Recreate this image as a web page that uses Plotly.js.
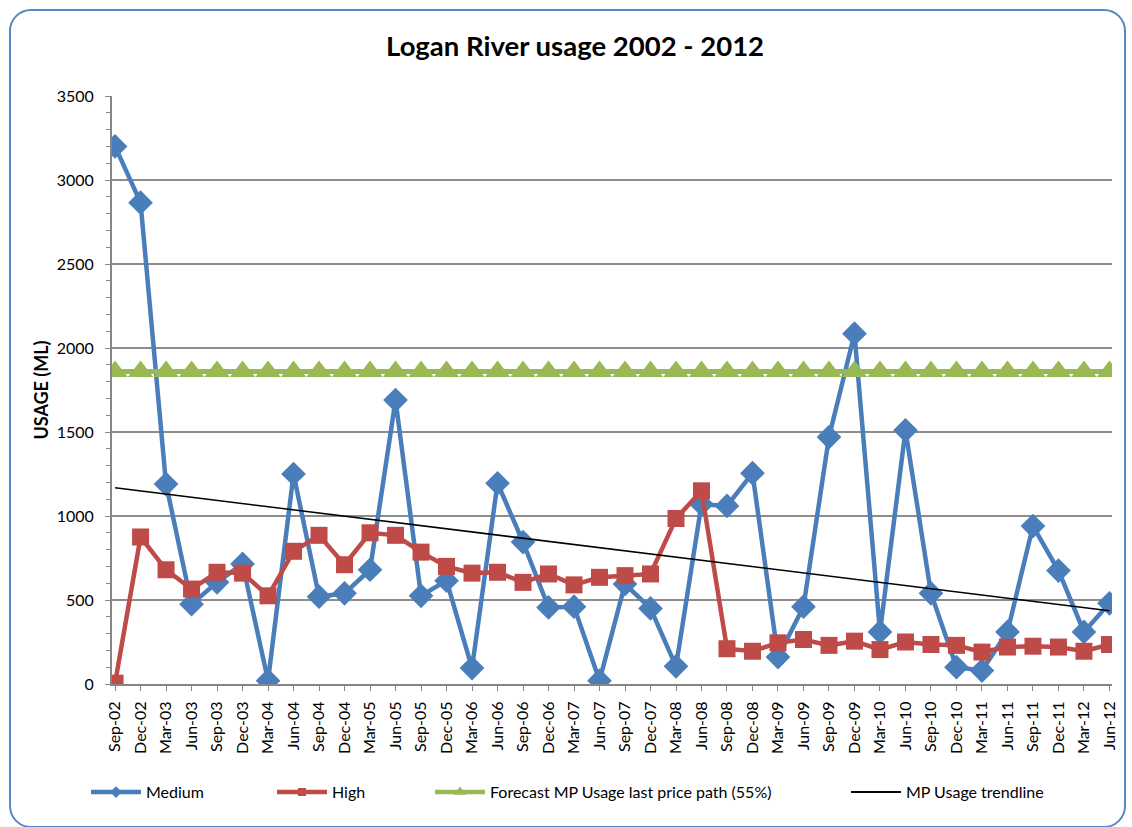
<!DOCTYPE html>
<html>
<head>
<meta charset="utf-8">
<script src="https://cdn.plot.ly/plotly-3.0.1.min.js"></script>
<style>
  html, body { margin: 0; padding: 0; background: #ffffff; }
  #wrap { position: relative; width: 1132px; height: 827px; overflow: hidden; }
  #chart { position: absolute; left: 0; top: 0; width: 1132px; height: 827px; }
  #frame { position: absolute; left: 9px; top: 9px; width: 1113px; height: 815px;
           border: 2px solid #5a86c3; border-radius: 22px; pointer-events: none; }
</style>
</head>
<body>
<div id="wrap">
  <div id="chart"></div>
  <div id="frame"></div>
</div>
<script>
const categories = ["Sep-02","Dec-02","Mar-03","Jun-03","Sep-03","Dec-03","Mar-04","Jun-04","Sep-04","Dec-04",
  "Mar-05","Jun-05","Sep-05","Dec-05","Mar-06","Jun-06","Sep-06","Dec-06","Mar-07","Jun-07",
  "Sep-07","Dec-07","Mar-08","Jun-08","Sep-08","Dec-08","Mar-09","Jun-09","Sep-09","Dec-09",
  "Mar-10","Jun-10","Sep-10","Dec-10","Mar-11","Jun-11","Sep-11","Dec-11","Mar-12","Jun-12"];

const medium = [3200, 2865, 1190, 475, 605, 715, 20, 1250, 520, 540,
  680, 1690, 525, 615, 95, 1195, 845, 456, 460, 20,
  595, 450, 105, 1070, 1060, 1255, 160, 460, 1470, 2085,
  310, 1510, 540, 100, 80, 310, 940, 675, 310, 480];

const high = [5, 875, 680, 565, 665, 660, 525, 790, 885, 710,
  900, 885, 785, 700, 660, 665, 605, 655, 590, 635,
  645, 655, 985, 1150, 210, 195, 245, 265, 230, 255,
  205, 250, 235, 230, 190, 220, 225, 220, 195, 235];

const forecast = [1860, 1860, 1860, 1860, 1860, 1860, 1860, 1860, 1860, 1860,
  1860, 1860, 1860, 1860, 1860, 1860, 1860, 1860, 1860, 1860,
  1860, 1860, 1860, 1860, 1860, 1860, 1860, 1860, 1860, 1860,
  1860, 1860, 1860, 1860, 1860, 1860, 1860, 1860, 1860, 1860];

const trendCategories = ["Sep-02", "Jun-12"];
const trendValues = [1168, 436];

const seriesNames = ["Medium", "High", "Forecast MP Usage last price path (55%)", "MP Usage trendline"];

const FONT = "Lato, 'Liberation Sans', Arial, sans-serif";
const BLUE = "#4a7ebb", RED = "#be4b48", GREEN = "#98b954";

const traces = [
  { x: categories, y: medium, name: seriesNames[0], type: "scatter", mode: "lines+markers",
    line: { color: BLUE, width: 4.5 }, showlegend: false,
    marker: { symbol: "diamond", size: 19, color: BLUE } },
  { x: categories, y: high, name: seriesNames[1], type: "scatter", mode: "lines+markers",
    line: { color: RED, width: 4.5 }, showlegend: false,
    marker: { symbol: "square", size: 17, color: RED } },
  { x: categories, y: forecast, name: seriesNames[2], type: "scatter", mode: "lines+markers",
    line: { color: GREEN, width: 5 }, showlegend: false,
    marker: { symbol: "triangle-up", size: 22, color: GREEN } },
  { x: trendCategories, y: trendValues, name: seriesNames[3], type: "scatter", mode: "lines",
    line: { color: "#000000", width: 1.5 }, showlegend: false },
  // legend-only entries (no data drawn), with small Excel-like legend markers
  { x: [null], y: [null], name: seriesNames[0], type: "scatter", mode: "lines+markers",
    line: { color: BLUE, width: 4.5 }, marker: { symbol: "diamond", size: 9, color: BLUE }, legend: "legend" },
  { x: [null], y: [null], name: seriesNames[1], type: "scatter", mode: "lines+markers",
    line: { color: RED, width: 4.5 }, marker: { symbol: "square", size: 8, color: RED }, legend: "legend2" },
  { x: [null], y: [null], name: seriesNames[2], type: "scatter", mode: "lines+markers",
    line: { color: GREEN, width: 4.5 }, marker: { symbol: "triangle-up", size: 11, color: GREEN }, legend: "legend3" },
  { x: [null], y: [null], name: seriesNames[3], type: "scatter", mode: "lines",
    line: { color: "#000000", width: 2 }, legend: "legend4" }
];

function leg(x) {
  return { x: x, y: -0.184, xanchor: "left", yanchor: "middle", orientation: "h",
    font: { family: FONT, size: 16, color: "#000" }, bgcolor: "rgba(0,0,0,0)", itemwidth: 50 };
}

const layout = {
  width: 1132, height: 827,
  margin: { l: 112, r: 20, t: 96, b: 143 },
  paper_bgcolor: "#ffffff", plot_bgcolor: "#ffffff",
  title: { text: "<b>Logan River usage 2002 - 2012</b>", xref: "container", x: 0.508, xanchor: "center", y: 0.944, yanchor: "middle",
    font: { family: FONT, size: 27.5, color: "#000" } },
  xaxis: {
    type: "category", range: [-0.12, 39.1], fixedrange: true,
    tickangle: -90, tickfont: { family: FONT, size: 16, color: "#000" },
    ticks: "outside", ticklen: 5, tickcolor: "#868686", ticklabelstandoff: 4,
    showline: true, linecolor: "#868686", linewidth: 2, showgrid: false, zeroline: false
  },
  yaxis: {
    range: [0, 3500], dtick: 500, fixedrange: true,
    tickfont: { family: FONT, size: 16, color: "#000" },
    ticks: "outside", ticklen: 5, tickcolor: "#868686", ticklabelstandoff: 8,
    showline: true, linecolor: "#868686", linewidth: 2,
    showgrid: true, gridcolor: "#8c8c8c", gridwidth: 1.3, zeroline: false,
    minor: { dtick: 100, ticks: "outside", ticklen: 4, tickcolor: "#868686", showgrid: false },
    title: { text: "<b>USAGE (ML)</b>", font: { family: FONT, size: 18, color: "#000" }, standoff: 3 }
  },
  showlegend: true,
  legend: leg(-0.026),
  legend2: leg(0.160),
  legend3: leg(0.318),
  legend4: leg(0.734)
};

Plotly.newPlot("chart", traces, layout, { displayModeBar: false, staticPlot: true });
</script>
</body>
</html>
